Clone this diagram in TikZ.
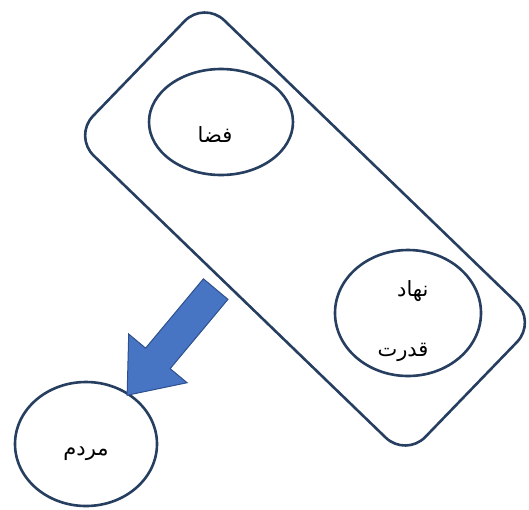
\documentclass[tikz,border=0pt]{standalone}
\usepackage{fontspec}
\newfontfamily\arabicfont[Script=Arabic]{DejaVu Sans}
\TeXXeTstate=1
\usetikzlibrary{shapes.geometric, calc}
\definecolor{framecol}{RGB}{38,62,96}
\definecolor{arrowfill}{RGB}{72,116,196}
\definecolor{arrowdraw}{RGB}{46,80,140}

\begin{document}
\begin{tikzpicture}[
  x=1pt, y=-1pt,
  font=\arabicfont\fontsize{21}{25}\selectfont,
  framebox/.style={
    rectangle, draw=framecol, rounded corners=28pt,
    minimum width=462pt, minimum height=188pt, line width=2.6pt,
    rotate=-44
  },
  bubble/.style={
    ellipse, draw=framecol, line width=2.6pt, fill=white, inner sep=0pt
  },
  blockarrow/.style={
    fill=arrowfill, draw=arrowdraw, line width=1pt, line join=miter
  }
]
\useasboundingbox (0,0) rectangle (529,509);
\node[framebox] (frame) at (305,229) {};
\node[bubble, minimum width=144pt, minimum height=106pt,
  label={[xshift=-6pt, yshift=-13pt]center:\beginR فضا\endR}] (space) at (221,122) {};
\node[bubble, minimum width=146pt, minimum height=126pt,
  label={[align=right, xshift=-5pt, yshift=-8pt]center:\beginR نهاد\endR\\[35pt]\beginR قدرت\endR}]
  (power) at (408,313) {};
\node[bubble, minimum width=142pt, minimum height=124pt,
  label={[yshift=-10pt]center:\beginR مردم\endR}] (people) at (86,444) {};
% block arrow from the frame down to the people
\coordinate (tail) at ($(frame.south)!0.1!(frame.south west)$);
\coordinate (tip) at ($(people.north east)+(-10,-4)$);
\coordinate (base) at ($(tail)!10pt!(tip)$);
\coordinate (neck) at ($(tip)!48pt!(tail)$);
\draw[blockarrow]
  ($(base)!16pt!90:(tip)$) -- ($(neck)!16pt!90:(tip)$)
  -- ($(neck)!38pt!90:(tip)$) -- (tip)
  -- ($(neck)!38pt!-90:(tip)$) -- ($(neck)!16pt!-90:(tip)$)
  -- ($(base)!16pt!-90:(tip)$) -- cycle;
\end{tikzpicture}
\end{document}
